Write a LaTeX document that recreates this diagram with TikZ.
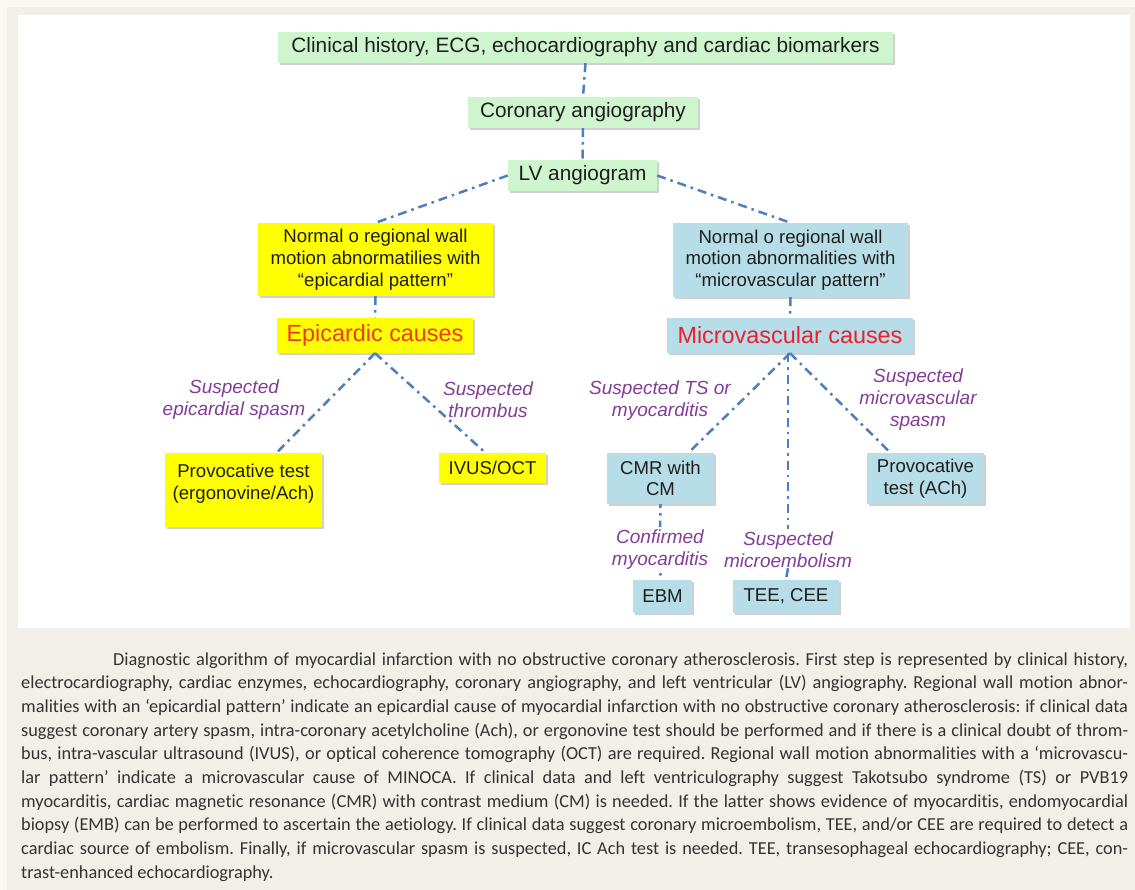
\documentclass[tikz,border=0pt]{standalone}
\usepackage{fontspec}
\setmainfont{Liberation Sans}
\newfontfamily\capfont[Ligatures=NoCommon]{Carlito}
\usetikzlibrary{shadows,calc}
\definecolor{bgbeige}{HTML}{F1EFE7}
\definecolor{bglight}{HTML}{F9F8F3}
\definecolor{boxgreen}{HTML}{CFF5CF}
\definecolor{boxyellow}{HTML}{FFFF00}
\definecolor{boxblue}{HTML}{B7DEE8}
\definecolor{linkblue}{HTML}{4F7EC0}
\definecolor{lblpurple}{HTML}{833C97}
\definecolor{epired}{HTML}{F03A1E}
\definecolor{micred}{HTML}{E8202E}
\definecolor{txt}{HTML}{1E1E1E}
\definecolor{captxt}{HTML}{333333}
\newcommand\capsetup{\capfont\fontsize{18.3}{22}\selectfont\frenchspacing\spaceskip=0.22em plus 0.6em minus 0.09em\relax}
\newcommand\capline[1]{\hbox to 1107pt{#1}}
\begin{document}
\begin{tikzpicture}[x=1pt,y=-1pt,
  sz/.style 2 args={minimum width=#1pt, minimum height=#2pt},
  box/.style={rectangle, inner sep=0pt, align=center, text=txt,
    font=\fontsize{18.6}{21.7}\selectfont,
    drop shadow={shadow xshift=1.8pt, shadow yshift=-2.2pt, opacity=0.3, fill=black!60}},
  gbox/.style={box, fill=boxgreen, font=\fontsize{20.8}{24}\selectfont},
  ybox/.style={box, fill=boxyellow},
  bbox/.style={box, fill=boxblue},
  bigtxt/.style={font=\fontsize{23.4}{26}\selectfont},
  lbl/.style={align=center, text=lblpurple, font=\fontsize{19}{22}\selectfont\itshape, inner sep=3pt},
  link/.style={draw=linkblue, line width=2.5pt, dash pattern=on 9pt off 5pt on 2.5pt off 5pt},
  capstyle/.style={anchor=base west, inner sep=0pt, text=captxt, font=\capsetup}
]
% background
\path[fill=bglight] (0,0) rectangle (1135,890);
\fill[bgbeige] (7,7) rectangle (1135,890);
\fill[white] (18,15) rectangle (1130,628);

% boxes
\node[gbox, sz={615}{31}] (top) at (585.5,47.5) {Clinical history, ECG, echocardiography and cardiac biomarkers};
\node[gbox, sz={230}{31}] (cor) at (583,112.5) {Coronary angiography};
\node[gbox, sz={149}{31}] (lv) at (582.5,175.5) {LV angiogram};
\node[ybox, sz={235}{73}] (lb) at (375.5,259.5) {Normal o regional wall\\motion abnormatilies with\\“epicardial pattern”};
\node[bbox, sz={235}{74}] (rb) at (790.5,260) {Normal o regional wall\\motion abnormalities with\\“microvascular pattern”};
\node[ybox, bigtxt, text=epired, sz={196}{35}] (ep) at (375,335.5) {Epicardic causes};
\node[bbox, bigtxt, text=micred, sz={246}{35}] (mc) at (790,335.5) {Microvascular causes};
\node[ybox, sz={157}{74}] (pv1) at (243.5,490) {};
\node[align=center, text=txt, font=\fontsize{18.6}{21.7}\selectfont, anchor=north, inner sep=0pt] (pv1t) at (243.5,464) {Provocative test\\(ergonovine/Ach)};
\node[ybox, sz={107}{30}] (ivus) at (492.5,468) {IVUS/OCT};
\node[bbox, sz={107}{51}] (cmr) at (660.5,478.5) {CMR with\\CM};
\node[bbox, sz={117}{51}] (pv2) at (925.5,478.5) {Provocative\\test (ACh)};
\node[bbox, sz={59}{33}] (ebm) at (662.5,596) {EBM};
\node[bbox, sz={106}{33}] (tee) at (786,596) {TEE, CEE};

% labels
\node[lbl] (l1) at (234,400) {Suspected\\epicardial spasm};
\node[lbl] (l2) at (488,400) {Suspected\\thrombus};
\node[lbl] (l3) at (660,401) {Suspected TS or\\myocarditis};
\node[lbl] (l4) at (918,400) {Suspected\\microvascular\\spasm};
\node[lbl] (l5) at (660,550) {Confirmed\\myocarditis};
\node[lbl] (l6) at (788,550) {Suspected\\microembolism};

% connectors
\draw[link] (top.south) -- (cor.north);
\draw[link] (cor.south) -- (lv.north);
\draw[link] (lv.west) -- (lb.north);
\draw[link] (lv.east) -- (rb.north);
\draw[link] (lb.south) -- (ep.north);
\draw[link] (rb.south) -- (mc.north);
\draw[link] (ep.south) -- ([xshift=33pt]pv1.north);
\draw[link] (ep.south) -- ([xshift=-7pt]ivus.north);
\draw[link] (mc.south) -- ([xshift=28pt]cmr.north);
\draw[link] (mc.south) -- ([xshift=-35pt]pv2.north);
\draw[link] (l6.north |- mc.south) -- (l6.north);
\draw[link, dash phase=5pt] (cmr.south) -- (l5.north);
\draw[link, dash phase=14pt] (l5.south) -- (ebm.north);
\draw[link] ([yshift=3pt]l6.south) -- (tee.north);

% caption
\node[capstyle] (c1) at (113,665) {\hbox to 1015pt{Diagnostic algorithm of myocardial infarction with no obstructive coronary atherosclerosis. First step is represented by clinical history,}};
\node[capstyle] (c2) at (21,688.67) {\capline{electrocardiography, cardiac enzymes, echocardiography, coronary angiography, and left ventricular (LV) angiography. Regional wall motion abnor-}};
\node[capstyle] (c3) at (21,712.33) {\capline{malities with an ‘epicardial pattern’ indicate an epicardial cause of myocardial infarction with no obstructive coronary atherosclerosis: if clinical data}};
\node[capstyle] (c4) at (21,736) {\capline{suggest coronary artery spasm, intra-coronary acetylcholine (Ach), or ergonovine test should be performed and if there is a clinical doubt of throm-}};
\node[capstyle] (c5) at (21,759.67) {\capline{bus, intra-vascular ultrasound (IVUS), or optical coherence tomography (OCT) are required. Regional wall motion abnormalities with a ‘microvascu-}};
\node[capstyle] (c6) at (21,783.33) {\capline{lar pattern’ indicate a microvascular cause of MINOCA. If clinical data and left ventriculography suggest Takotsubo syndrome (TS) or PVB19}};
\node[capstyle] (c7) at (21,807) {\capline{myocarditis, cardiac magnetic resonance (CMR) with contrast medium (CM) is needed. If the latter shows evidence of myocarditis, endomyocardial}};
\node[capstyle] (c8) at (21,830.67) {\capline{biopsy (EMB) can be performed to ascertain the aetiology. If clinical data suggest coronary microembolism, TEE, and/or CEE are required to detect a}};
\node[capstyle] (c9) at (21,854.33) {\capline{cardiac source of embolism. Finally, if microvascular spasm is suspected, IC Ach test is needed. TEE, transesophageal echocardiography; CEE, con-}};
\node[capstyle] (c10) at (21,878) {trast-enhanced echocardiography.};
\end{tikzpicture}
\end{document}
